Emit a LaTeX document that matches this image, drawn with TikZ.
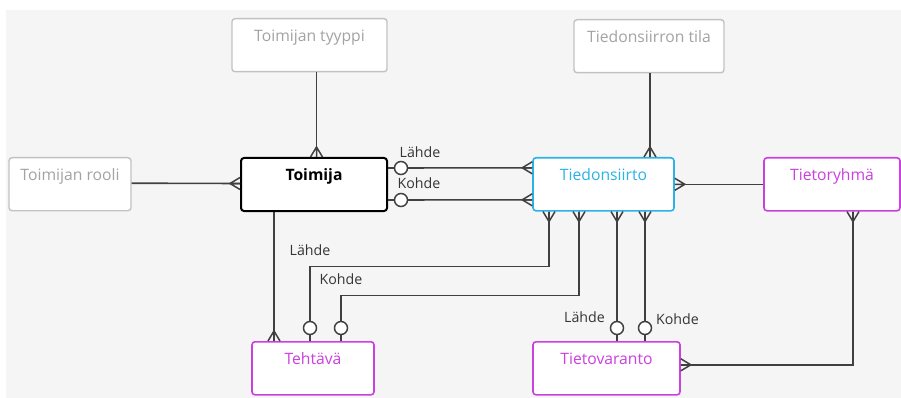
\documentclass[tikz,border=0pt]{standalone}
\usepackage{fontspec}
\setmainfont{Open Sans}
\definecolor{bgc}{HTML}{F5F5F5}
\definecolor{graybd}{HTML}{C2C2C2}
\definecolor{graytx}{HTML}{A3A3A3}
\definecolor{cyanc}{HTML}{2BB3E6}
\definecolor{magc}{HTML}{CC3FE0}
\definecolor{linec}{HTML}{404040}
\definecolor{labc}{HTML}{353535}
\begin{document}
\begin{tikzpicture}[x=1pt,y=-1pt,
  ent/.style={draw, rounded corners=3pt, fill=white, line width=1.6pt,
    inner xsep=0pt, inner ysep=0pt, text height=23pt, text depth=30pt,
    font=\fontsize{15.7}{18}\selectfont},
  grayent/.style={ent, draw=graybd, text=graytx, line width=1.4pt},
  conn/.style={draw=linec, line width=1.6pt},
  lab/.style={anchor=base, text=labc, inner sep=0pt, font=\fontsize{14.2}{16}\selectfont},
  crow/.pic={\draw[linec, line width=1.5pt] (0,6) -- (10,0) -- (0,-6) (0,0) -- (10,0);},
  zero/.pic={\draw[linec, line width=1.5pt, fill=white] (13,0) circle[radius=6.5];}
]
\useasboundingbox (0,0) rectangle (901,398);
\fill[bgc] (6,10) rectangle (901,398);

\node[grayent, minimum width=155pt] (tt) at (309.5,18) [anchor=north] {Toimijan tyyppi};
\node[grayent, minimum width=122pt] (tr0) at (70,157) [anchor=north] {Toimijan rooli};
\node[ent, draw=black, line width=2pt, minimum width=146pt, font=\fontsize{15.7}{18}\selectfont\bfseries] (toim) at (314,157) [anchor=north] {Toimija};
\node[grayent, minimum width=150pt] (tila) at (649,19) [anchor=north] {Tiedonsiirron tila};
\node[ent, draw=cyanc, text=cyanc, minimum width=141pt] (ts) at (603.5,157) [anchor=north] {Tiedonsiirto};
\node[ent, draw=magc, text=magc, minimum width=136pt] (tr) at (832,157) [anchor=north] {Tietoryhmä};
\node[ent, draw=magc, text=magc, minimum width=122pt] (teh) at (313,341) [anchor=north] {Tehtävä};
\node[ent, draw=magc, text=magc, minimum width=147pt] (tv) at (606.5,341) [anchor=north] {Tietovaranto};

% connectors
\draw[conn] ([xshift=2.5pt]toim.north) -- ([xshift=2.5pt]toim.north |- tt.south);
\draw[conn] ([yshift=1pt]tr0.east) -- ([yshift=1pt]toim.west);
\draw[conn] ([yshift=16.5pt]toim.east) -- ([yshift=16.5pt]ts.west);
\draw[conn] ([yshift=-15.5pt]toim.east) -- ([yshift=-15.5pt]ts.west);
\draw[conn] ([xshift=46.5pt]ts.north) -- ([xshift=46.5pt]ts.north |- tila.south);
\draw[conn] (ts.east) -- (tr.west);
\draw[conn] ([xshift=-40pt]toim.south) -- ([xshift=-40pt]toim.south |- teh.north);
\draw[conn] ([xshift=-54.5pt]ts.south) -- ++(0,55) -| ([xshift=-3pt]teh.north);
\draw[conn] ([xshift=-24.5pt]ts.south) -- ++(0,84) -| ([xshift=28pt]teh.north);
\draw[conn] ([xshift=13.5pt]ts.south) -- ([xshift=13.5pt]ts.south |- tv.north);
\draw[conn] ([xshift=41.5pt]ts.south) -- ([xshift=41.5pt]ts.south |- tv.north);
\draw[conn] ([xshift=21pt]tr.south) |- ([yshift=3.5pt]tv.east);

% crow's feet
\pic[rotate=90] at ([xshift=2.5pt]toim.north) {crow};
\pic[rotate=180] at ([yshift=1pt]toim.west) {crow};
\pic[rotate=180] at ([yshift=16.5pt]ts.west) {crow};
\pic[rotate=180] at ([yshift=-15.5pt]ts.west) {crow};
\pic[rotate=90] at ([xshift=46.5pt]ts.north) {crow};
\pic at (ts.east) {crow};
\pic[rotate=-90] at ([xshift=-54.5pt]ts.south) {crow};
\pic[rotate=-90] at ([xshift=-24.5pt]ts.south) {crow};
\pic[rotate=-90] at ([xshift=13.5pt]ts.south) {crow};
\pic[rotate=-90] at ([xshift=41.5pt]ts.south) {crow};
\pic[rotate=90] at ([xshift=-39pt]teh.north) {crow};
\pic[rotate=-90] at ([xshift=21pt]tr.south) {crow};
\pic at ([yshift=3.5pt]tv.east) {crow};

% zero circles
\pic at ([yshift=16.5pt]toim.east) {zero};
\pic at ([yshift=-15.5pt]toim.east) {zero};
\pic[rotate=90] at ([xshift=-3pt]teh.north) {zero};
\pic[rotate=90] at ([xshift=28pt]teh.north) {zero};
\pic[rotate=90] at ([xshift=10.5pt]tv.north) {zero};
\pic[rotate=90] at ([xshift=38.5pt]tv.north) {zero};

% labels
\node[lab] (l1) at (420,158) {Lähde};
\node[lab] (k1) at (419,189) {Kohde};
\node[lab] (l2) at (310,255) {Lähde};
\node[lab] (k2) at (341,284) {Kohde};
\node[lab] (l3) at (584.5,322) {Lähde};
\node[lab] (k3) at (677.5,324) {Kohde};
\end{tikzpicture}
\end{document}
